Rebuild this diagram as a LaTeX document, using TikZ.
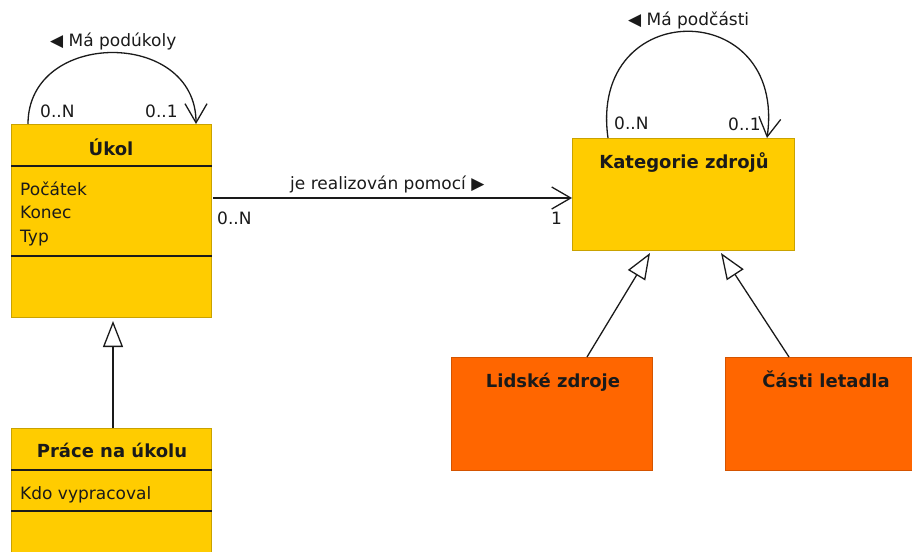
\documentclass[tikz,border=0pt]{standalone}
\usepackage{fontspec}
\setmainfont{DejaVu Sans}
\usetikzlibrary{arrows.meta,calc}

\definecolor{clsfill}{HTML}{FFCC00}
\definecolor{clsedge}{HTML}{C9A200}
\definecolor{subfill}{HTML}{FF6600}
\definecolor{subedge}{HTML}{D45400}
\definecolor{ink}{HTML}{1A1A1A}

\tikzset{
  classbox/.style={draw=clsedge, fill=clsfill, line width=1pt, anchor=north west,
    inner sep=0pt, minimum width=200pt},
  subbox/.style={draw=subedge, fill=subfill, line width=1pt, anchor=north west,
    inner sep=0pt, minimum width=201pt, minimum height=113pt},
  clstitle/.style={font=\fontsize{18}{20}\selectfont\bfseries, text=ink, inner sep=0pt, anchor=base},
  attr/.style={font=\fontsize{17}{19}\selectfont, text=ink, inner sep=0pt, anchor=base west},
  lbl/.style={font=\fontsize{17}{19}\selectfont, text=ink, inner sep=0pt, anchor=base west},
  sepline/.style={draw=ink, line width=1.2pt},
  assoc/.style={draw=ink, line width=1.3pt,
    -{Straight Barb[length=19pt,width=22pt,line width=1.3pt]}},
  gen/.style={draw=ink, line width=1.3pt,
    -{Triangle[length=26pt,width=20pt,fill=white,line width=1.3pt]}},
}

\begin{document}
\begin{tikzpicture}[x=1pt,y=-1pt]
  \useasboundingbox (0,0) rectangle (912,551);
  \clip (0,0) rectangle (912,551);

  % class boxes
  \node[classbox, minimum height=193pt] (ukol) at (11,124) {};
  \node[classbox, minimum height=140pt] (prace) at (11,428) {};
  \node[classbox, minimum width=222pt, minimum height=112pt] (kat) at (572,138) {};
  \node[subbox] (lidske) at (451,357) {};
  \node[subbox] (casti) at (725,357) {};

  % compartments
  \draw[sepline] ($(ukol.north west)+(0,42)$) -- ($(ukol.north east)+(0,42)$);
  \draw[sepline] ($(ukol.north west)+(0,132)$) -- ($(ukol.north east)+(0,132)$);
  \draw[sepline] ($(prace.north west)+(0,42)$) -- ($(prace.north east)+(0,42)$);
  \draw[sepline] ($(prace.north west)+(0,83)$) -- ($(prace.north east)+(0,83)$);

  % titles and attributes
  \node[clstitle] (ukolT) at (111,155) {Úkol};
  \node[attr] (ukolA1) at (20,195) {Počátek};
  \node[attr] (ukolA2) at (20,218.5) {Konec};
  \node[attr] (ukolA3) at (20,242) {Typ};
  \node[clstitle] (praceT) at (112,457) {Práce na úkolu};
  \node[attr] (praceA1) at (20,499) {Kdo vypracoval};
  \node[clstitle] (katT) at (684,168) {Kategorie zdrojů};
  \node[clstitle] (lidskeT) at (553,387) {Lidské zdroje};
  \node[clstitle] (castiT) at (826,387) {Části letadla};

  % self association of the task
  \coordinate (u1) at ($(ukol.north west)+(17,0)$);
  \coordinate (u2) at ($(ukol.north west)+(185,0)$);
  \draw[assoc] (u1) .. controls +(0,-95) and +(0,-95) .. (u2);
  \node[lbl] (ukolR) at (50,47) {◀ Má podúkoly};
  \node[lbl] (ukolM1) at (40,117) {0..N};
  \node[lbl] (ukolM2) at (145,117) {0..1};

  % self association of the resource category
  \coordinate (k1) at ($(kat.north west)+(36,0)$);
  \coordinate (k2) at ($(kat.north west)+(195,0)$);
  \draw[assoc] (k1) .. controls +(-20,-142) and +(20,-142) .. (k2);
  \node[lbl] (katR) at (628,26) {◀ Má podčásti};
  \node[lbl] (katM1) at (614,129) {0..N};
  \node[lbl] (katM2) at (728,130) {0..1};

  % association between task and resource category
  \draw[assoc] ($(ukol.north east)+(1,74)$) -- ($(kat.north west)+(0,60)$);
  \node[lbl] (assocR) at (290,189) {je realizován pomocí ▶};
  \node[lbl] (assocM1) at (217,224) {0..N};
  \node[lbl] (assocM2) at (551,224) {1};

  % generalisations
  \draw[gen] ($(prace.north west)+(102,0)$) -- ($(ukol.south west)+(102,3)$);
  \draw[gen] ($(lidske.north west)+(136,0)$) -- ($(kat.south west)+(78,2)$);
  \draw[gen] ($(casti.north west)+(64,0)$) -- ($(kat.south west)+(149,2)$);
\end{tikzpicture}
\end{document}
